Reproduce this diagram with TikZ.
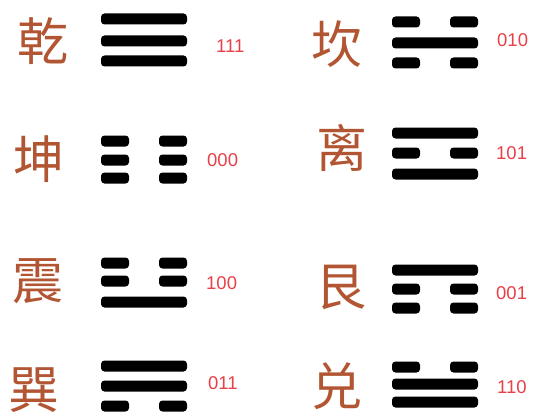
\documentclass[tikz,border=0pt]{standalone}
\usepackage{fontspec}
\setmainfont{Liberation Sans}
\newfontfamily\cjk{Noto Sans CJK SC}
\definecolor{charc}{RGB}{178,85,50}
\definecolor{numc}{RGB}{232,64,72}
\newcommand\yangbar[2]{\fill[bar] (#1,#2-5.5) rectangle ++(86,11);}
\newcommand\yinbar[2]{\fill[bar] (#1,#2-5.5) rectangle ++(28,11); \fill[bar] (#1+58,#2-5.5) rectangle ++(28,11);}
\begin{document}
\begin{tikzpicture}[x=1pt,y=-1pt,
 gua/.style={font=\cjk\fontsize{51}{51}\selectfont, text=charc, inner sep=0},
 num/.style={font=\fontsize{18.5}{18.5}\selectfont, text=numc, inner sep=0, anchor=west},
 bar/.style={fill=black, rounded corners=3.5pt}]
\useasboundingbox (0,0) rectangle (534,417);
\fill[white] (0,0) rectangle (534,417);
% left column
\node[gua] (qian) at (43,41) {乾};
\yangbar{101}{19}\yangbar{101}{41}\yangbar{101}{61}
\node[num] (nqian) at (216,46) {111};
\node[gua] (kun) at (39,159) {坤};
\yinbar{101}{141}\yinbar{101}{160}\yinbar{101}{178}
\node[num] (nkun) at (207,160) {000};
\node[gua] (zhen) at (38,281) {震};
\yinbar{101}{263}\yinbar{101}{281}\yangbar{101}{302}
\node[num] (nzhen) at (206,283) {100};
\node[gua] (xun) at (34,390) {巽};
\yangbar{101}{366}\yangbar{101}{386}\yinbar{101}{406}
\node[num] (nxun) at (208,383) {011};
% right column
\node[gua] (kan) at (337,44) {坎};
\yinbar{392}{22}\yangbar{392}{43}\yinbar{392}{63}
\node[num] (nkan) at (497,40) {010};
\node[gua] (li) at (342,148) {离};
\yangbar{392}{133}\yinbar{392}{153}\yangbar{392}{174}
\node[num] (nli) at (496,153) {101};
\node[gua] (gen) at (341,287) {艮};
\yangbar{392}{270}\yinbar{392}{289}\yinbar{392}{308}
\node[num] (ngen) at (496,293) {001};
\node[gua] (dui) at (337,386) {兑};
\yinbar{392}{367}\yangbar{392}{384}\yangbar{392}{402}
\node[num] (ndui) at (497,387) {110};
\end{tikzpicture}
\end{document}
